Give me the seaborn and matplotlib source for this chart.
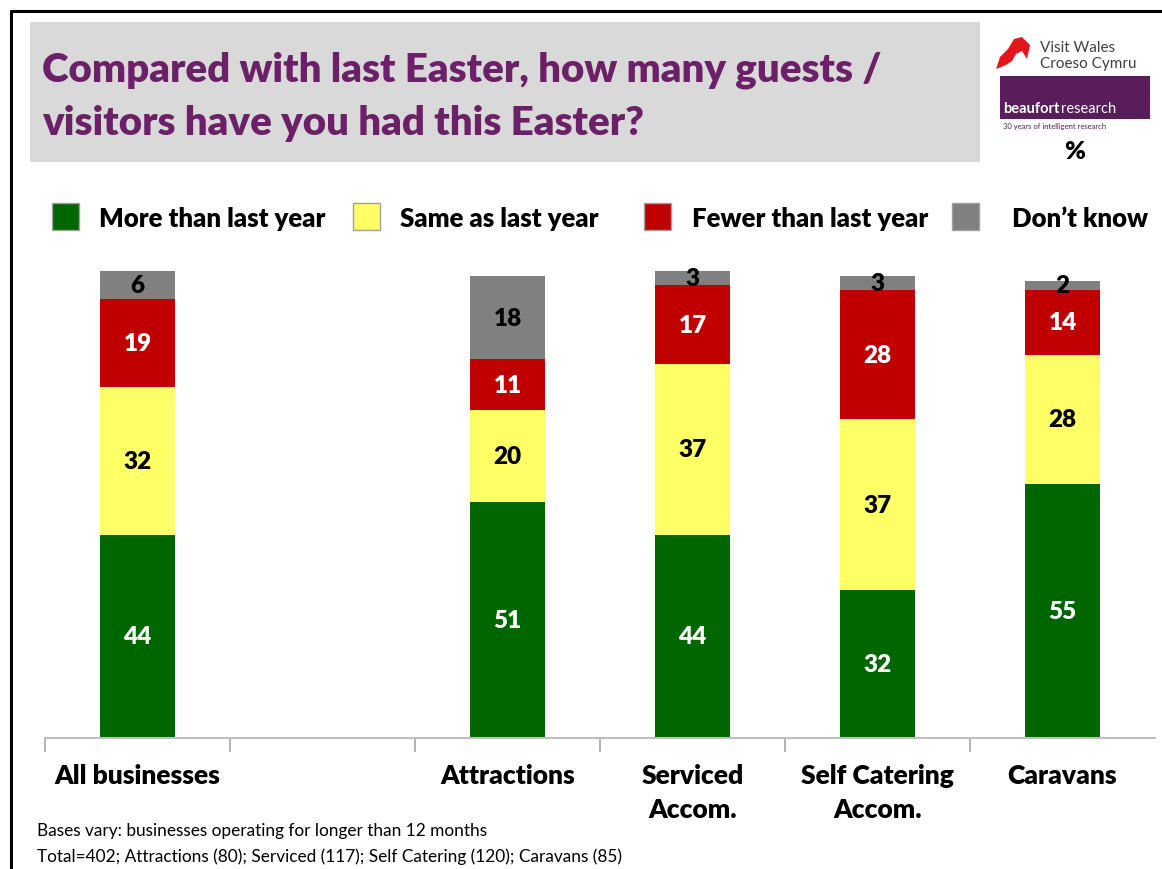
import numpy as np
import pandas as pd
import matplotlib
matplotlib.use("Agg")
import matplotlib.pyplot as plt
import seaborn as sns
from matplotlib.patches import Rectangle, Polygon

# ---- data -------------------------------------------------------------
categories = ["All businesses", " ", "Attractions", "Serviced\nAccom.",
              "Self Catering\nAccom.", "Caravans"]
more_than = [44, 0, 51, 44, 32, 55]
same_as = [32, 0, 20, 37, 37, 28]
fewer_than = [19, 0, 11, 17, 28, 14]
dont_know = [6, 0, 18, 3, 3, 2]
has_bar = [True, False, True, True, True, True]

series_names = ["More than last year", "Same as last year",
                "Fewer than last year", "Don\u2019t know"]
series_colors = ["#006600", "#FFFF66", "#C00000", "#808080"]
label_colors = ["white", "black", "white", "black"]

title_lines = ["Compared with last Easter, how many guests /",
               "visitors have you had this Easter?"]
footnote_lines = ["Bases vary: businesses operating for longer than 12 months",
                  "Total=402; Attractions (80); Serviced (117); Self Catering (120); Caravans (85)"]

# ---- figure setup -----------------------------------------------------
W, H = 1162, 870
sns.set_theme(style="white")
plt.rcParams["font.family"] = ["Lato", "DejaVu Sans"]
BOLD = "heavy"

fig = plt.figure(figsize=(W / 100, H / 100), dpi=100)


def fx(x):
    return x / W


def fy(y):
    return 1 - y / H


ax = fig.add_axes([fx(45), fy(739), (1155 - 45) / W, 462 / H])

df = pd.DataFrame({"category": categories, "more": more_than, "same": same_as,
                   "fewer": fewer_than, "dk": dont_know})
layers = [df["more"].values, df["same"].values, df["fewer"].values, df["dk"].values]
cum = np.cumsum(np.vstack(layers), axis=0)

# stacked bars: draw cumulative totals from the top layer down
for k in range(3, -1, -1):
    tmp = pd.DataFrame({"category": categories, "value": cum[k]})
    sns.barplot(data=tmp, x="category", y="value", order=categories,
                color=series_colors[k], saturation=1, width=0.405,
                errorbar=None, ax=ax, clip_on=False, linewidth=0)

# value labels in the middle of each segment
for i in range(len(categories)):
    if not has_bar[i]:
        continue
    base = 0
    for k in range(4):
        v = layers[k][i]
        ax.text(i, base + v / 2, f"{v}", ha="center", va="center",
                fontsize=17.5, fontweight=BOLD, color=label_colors[k],
                clip_on=False)
        base += v

ax.set_xlim(-0.5, len(categories) - 0.5)
ax.set_ylim(0, 100)
ax.set_xlabel("")
ax.set_ylabel("")
ax.set_yticks([])
for s in ["top", "right", "left"]:
    ax.spines[s].set_visible(False)
ax.spines["bottom"].set_color("#BFBFBF")
ax.spines["bottom"].set_linewidth(1.5)

ax.set_xticks(range(len(categories)))
ax.set_xticklabels(categories, fontsize=19, fontweight=BOLD,
                   color="black", linespacing=1.5, va="top")
ax.tick_params(axis="x", which="major", length=0, pad=18)
ax.set_xticks(np.arange(-0.5, len(categories) - 0.5, 1.0), minor=True)
ax.tick_params(axis="x", which="minor", length=10, width=1.2,
               color="#A6A6A6", direction="out", bottom=True)

# ---- frame and title box ----------------------------------------------
fig.add_artist(plt.Line2D([fx(11), fx(11)], [fy(12), 0], color="black",
                          lw=2.2, transform=fig.transFigure))
fig.add_artist(plt.Line2D([fx(11), 1], [fy(12), fy(12)], color="black",
                          lw=2.2, transform=fig.transFigure))
fig.add_artist(Rectangle((fx(30), fy(163)), (980 - 30) / W, 140 / H,
                         facecolor="#D9D9D9", edgecolor="none",
                         transform=fig.transFigure))
fig.text(fx(42), fy(70), title_lines[0], ha="left", va="center",
         fontsize=29, fontweight=BOLD, color="#6B2068")
fig.text(fx(42), fy(124), title_lines[1], ha="left", va="center",
         fontsize=29, fontweight=BOLD, color="#6B2068")

# ---- logos ------------------------------------------------------------
dragon = [(996, 70), (1000, 58), (1008, 50), (1014, 40), (1022, 38),
          (1030, 46), (1027, 60), (1022, 52), (1016, 55), (1012, 62),
          (1006, 66)]
fig.add_artist(Polygon([(fx(x), fy(y)) for x, y in dragon], closed=True,
                       facecolor="#E3161B", edgecolor="none",
                       transform=fig.transFigure))
fig.text(fx(1040), fy(48), "Visit Wales", ha="left", va="center",
         fontsize=11, color="#404040")
fig.text(fx(1040), fy(64), "Croeso Cymru", ha="left", va="center",
         fontsize=11, color="#404040")
fig.add_artist(Rectangle((fx(1000), fy(120)), 150 / W, 43 / H,
                         facecolor="#5A1D5C", edgecolor="none",
                         transform=fig.transFigure))
fig.text(fx(1003), fy(109), "beaufort", ha="left", va="center",
         fontsize=10.5, fontweight="bold", color="white")
fig.text(fx(1061), fy(109), "research", ha="left", va="center",
         fontsize=10.5, color="white")
fig.text(fx(1003), fy(127), "30 years of intelligent research", ha="left",
         va="center", fontsize=5.5, color="#5A1D5C")
fig.text(fx(1075), fy(152), "%", ha="center", va="center",
         fontsize=18, fontweight=BOLD, color="black")

# ---- legend -----------------------------------------------------------
legend_box_x = [52, 353, 644, 952]
legend_text_x = [99, 400, 692, 1012]
for k in range(4):
    fig.add_artist(Rectangle((fx(legend_box_x[k]), fy(231)), 27 / W, 27 / H,
                             facecolor=series_colors[k], edgecolor="#A0A0A0",
                             lw=1, transform=fig.transFigure))
    fig.text(fx(legend_text_x[k]), fy(219), series_names[k], ha="left",
             va="center", fontsize=18.5, fontweight=BOLD, color="black")

# ---- footnote ---------------------------------------------------------
fig.text(fx(37), fy(831), footnote_lines[0], ha="left", va="center",
         fontsize=12.4, color="black")
fig.text(fx(37), fy(857), footnote_lines[1], ha="left", va="center",
         fontsize=12.4, color="black")

fig.savefig("out.png", dpi=100)
